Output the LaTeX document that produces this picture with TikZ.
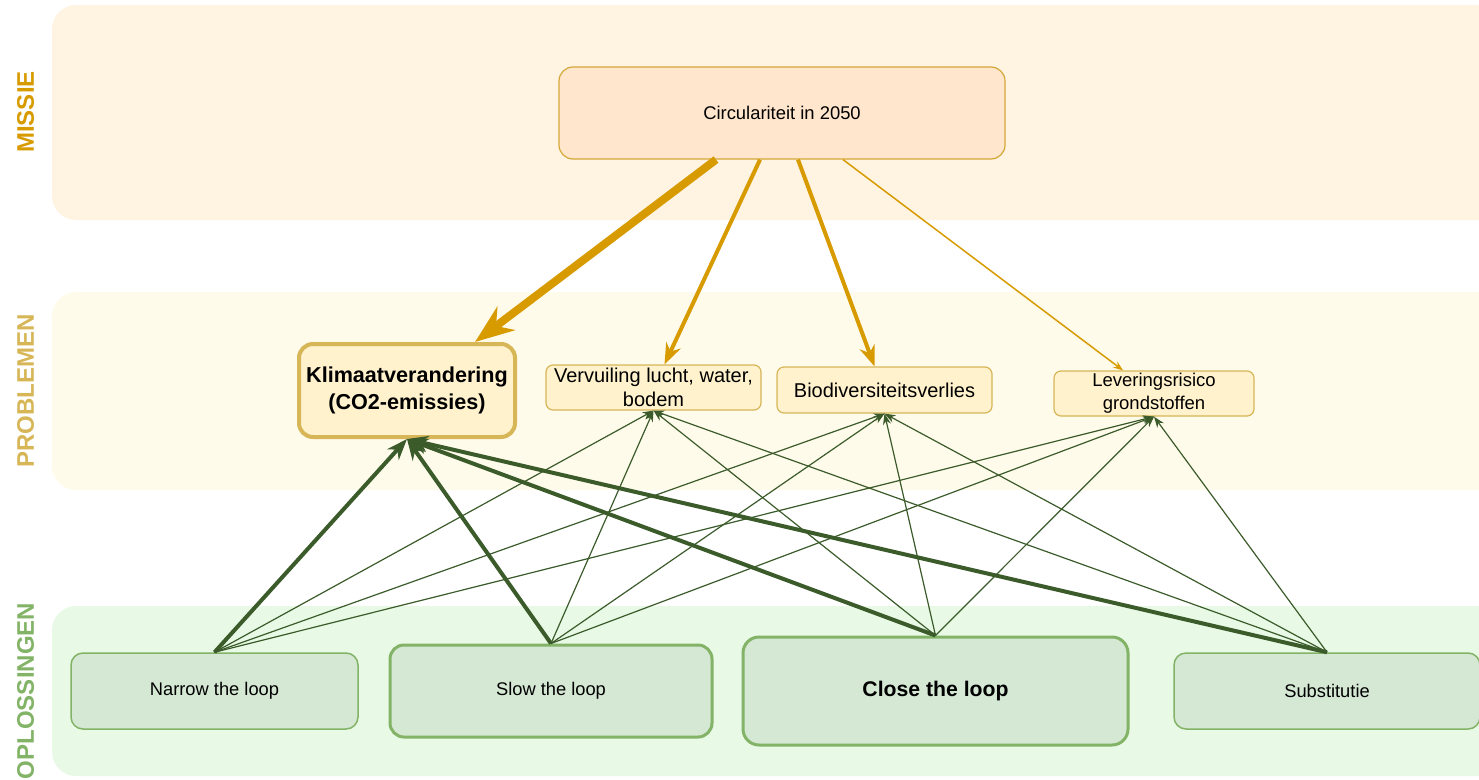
\documentclass[tikz,border=0pt]{standalone}
\usepackage{fontspec}
\setmainfont{Liberation Sans}
\usepackage{tikz}
\usetikzlibrary{arrows.meta,positioning}
\definecolor{misgold}{HTML}{D79B00}
\definecolor{misband}{HTML}{FFF3E2}
\definecolor{misfill}{HTML}{FFE6CC}
\definecolor{misline}{HTML}{D4A838}
\definecolor{probgold}{HTML}{D6B656}
\definecolor{probband}{HTML}{FFFBEB}
\definecolor{probfill}{HTML}{FFF2CC}
\definecolor{oplgreen}{HTML}{82B366}
\definecolor{oplband}{HTML}{E8FAE6}
\definecolor{oplfill}{HTML}{D5E8D4}
\definecolor{opldark}{HTML}{3B5B2A}
\newcommand{\fsz}[2]{\fontsize{#1}{#2}\selectfont}

\begin{document}
\begin{tikzpicture}[x=1pt,y=-1pt,
  lanelabel/.style={rotate=90, inner sep=0pt, font=\bfseries\fsz{24}{28}},
  misbox/.style={draw=misline, fill=misfill, line width=1.2pt, rounded corners=14pt,
     inner sep=0pt, font=\fsz{18.4}{22}},
  probbox/.style={draw=probgold, fill=probfill, line width=1.2pt, rounded corners=7pt,
     inner sep=0pt, align=center, font=\fsz{20}{24}},
  oplbox/.style={draw=oplgreen, fill=oplfill, line width=1.5pt, rounded corners=12pt,
     inner sep=0pt, font=\fsz{18.3}{22}},
  misarrow/.style={draw=misgold, -{Stealth}},
  oplarrow/.style={draw=opldark, -{Stealth}}]
\clip (0,0) rectangle (1479,779);
% lanes
\foreach \yy/\hh/\bc in {5/215/misband, 292/198/probband, 606/170/oplband}
   \fill[\bc, rounded corners=24pt] (52,\yy) rectangle ++(1500,\hh);
\node[lanelabel, text=misgold] (lblmis) at (25.5,112) {MISSIE};
\node[lanelabel, text=probgold] (lblprob) at (25.5,391) {PROBLEMEN};
\node[lanelabel, text=oplgreen] (lblopl) at (25.5,691) {OPLOSSINGEN};

% missie
\node[misbox, minimum width=446pt, minimum height=92pt] (circ) at (782,113) {Circulariteit in 2050};

% problemen
\node[probbox, line width=4pt, rounded corners=14pt, minimum width=216pt, minimum height=93pt,
   font=\bfseries\fsz{21.6}{27}] (klim) at (407,390.5) {Klimaatverandering\\(CO2-emissies)};
\node[probbox, minimum width=215pt, minimum height=45pt] (verv) at (653.5,387.5) {Vervuiling lucht, water,\\bodem};
\node[probbox, minimum width=215pt, minimum height=46pt] (bio) at (884.5,390) {Biodiversiteitsverlies};
\node[probbox, minimum width=200pt, minimum height=45pt, font=\fsz{18.5}{23}] (lev) at (1154,393.5) {Leveringsrisico\\grondstoffen};

% oplossingen
\node[oplbox, minimum width=287pt, minimum height=76pt] (narrow) at (214.5,691) {Narrow the loop};
\node[oplbox, line width=3pt, rounded corners=14pt, minimum width=322pt, minimum height=92pt] (slow) at (551,691) {Slow the loop};
\node[oplbox, line width=3pt, rounded corners=16pt, minimum width=385pt, minimum height=108pt,
   font=\bfseries\fsz{21.2}{25}] (close) at (935.5,691) {Close the loop};
\node[oplbox, minimum width=306pt, minimum height=76pt] (subst) at (1327,691) {Substitutie};

% missie -> problemen, width = weight
\draw[misarrow, line width=8pt] ([xshift=-66pt]circ.south) -- ([xshift=68pt]klim.north);
\draw[misarrow, line width=4pt] ([xshift=-22pt]circ.south) -- ([xshift=11pt]verv.north);
\draw[misarrow, line width=4pt] ([xshift=16pt]circ.south) -- ([xshift=-10pt]bio.north);
\draw[misarrow, line width=1.5pt] ([xshift=61pt]circ.south) -- ([xshift=-31pt]lev.north);

% oplossingen -> problemen, thick to klimaat
\foreach \src in {narrow,slow,close,subst}{
   \draw[oplarrow, line width=4pt] (\src.north) -- (klim.south);
   \foreach \dst in {verv,bio,lev}
      \draw[draw=opldark, -{Stealth[length=11pt,width=8pt]}, line width=1.2pt] (\src.north) -- (\dst.south);
}
\end{tikzpicture}
\end{document}
